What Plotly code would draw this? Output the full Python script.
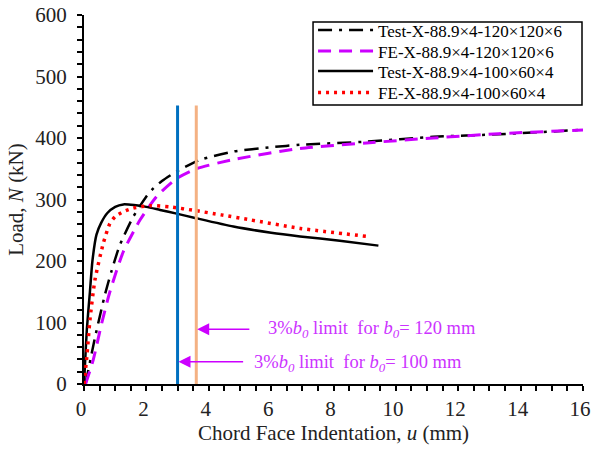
import plotly.graph_objects as go

# Load–indentation curves of the X-joints
u_test_120 = [0.05, 0.35, 0.67, 0.89, 1.15, 1.58, 2.0, 2.22, 2.5, 2.92, 3.7, 4.79, 6.0, 6.93, 9.06, 11.2, 13.3, 15.85]
n_test_120 = [0, 75, 145, 185, 226, 272, 305, 318, 330, 344, 364, 378, 385, 389, 394, 402, 406, 413]

u_fe_120 = [0.05, 0.3, 0.55, 0.83, 1.26, 1.8, 2.33, 2.97, 3.6, 4.79, 6.93, 9.06, 11.2, 13.3, 16.0]
n_fe_120 = [0, 40, 95, 150, 215, 267, 305, 334, 350, 365, 383, 392, 400, 407, 413]

u_test_100 = [0, 0.03, 0.09, 0.19, 0.27, 0.4, 0.55, 0.75, 1.0, 1.26, 1.6, 2.0, 2.44, 2.97, 3.56, 4.79, 6.0, 6.93, 8.2, 9.44]
n_test_100 = [0, 30, 88, 150, 200, 243, 262, 278, 288, 292, 291, 288, 283, 277, 270, 256, 246, 240, 233, 225]

u_fe_100 = [0, 0.09, 0.19, 0.35, 0.62, 0.83, 1.0, 1.26, 1.58, 2.12, 2.76, 3.56, 4.4, 5.32, 6.93, 9.08]
n_fe_100 = [0, 44, 104, 169, 229, 261, 272, 280, 286, 290, 288, 282, 275, 267, 253, 240]

# 3% b0 deformation limits (mm)
limit_100 = 3.0
limit_120 = 3.6
limit_top = 453

FONT = "Liberation Serif, Times New Roman, serif"
MAGENTA = "#CC00FF"
TEXT_MAGENTA = "#CC33FF"

fig = go.Figure()
fig.add_trace(go.Scatter(x=u_test_120, y=n_test_120, mode="lines", name="Test-X-88.9×4-120×120×6",
                         line=dict(color="black", width=2.5, dash="14px,7px,3px,7px",
                                   shape="spline", smoothing=0.6), legend="legend"))
fig.add_trace(go.Scatter(x=u_fe_120, y=n_fe_120, mode="lines", name="FE-X-88.9×4-120×120×6",
                         line=dict(color=MAGENTA, width=3, dash="13px,8px",
                                   shape="spline", smoothing=0.6), legend="legend2"))
fig.add_trace(go.Scatter(x=u_test_100, y=n_test_100, mode="lines", name="Test-X-88.9×4-100×60×4",
                         line=dict(color="black", width=2.5, shape="spline", smoothing=0.6),
                         legend="legend3"))
fig.add_trace(go.Scatter(x=u_fe_100, y=n_fe_100, mode="lines", name="FE-X-88.9×4-100×60×4",
                         line=dict(color="#FF0000", width=3.5, dash="3px,5px",
                                   shape="spline", smoothing=0.6), legend="legend4"))

fig.add_shape(type="line", xref="x", yref="y", x0=limit_100, x1=limit_100, y0=0, y1=limit_top,
              line=dict(color="#0070C0", width=3))
fig.add_shape(type="line", xref="x", yref="y", x0=limit_120, x1=limit_120, y0=0, y1=limit_top,
              line=dict(color="#F4B183", width=3))

# frame around the legend entries
fig.add_shape(type="rect", xref="paper", yref="paper", x0=0.459, x1=0.998, y0=0.756, y1=0.981,
              line=dict(color="black", width=1.5), fillcolor="white", layer="below")

# arrows pointing to the limit lines
fig.add_annotation(x=limit_120 + 0.03, y=89, ax=5.35, ay=89, axref="x", ayref="y", xref="x", yref="y",
                   text="", showarrow=True, arrowhead=2, arrowsize=1.6, arrowwidth=1.5, arrowcolor=MAGENTA)
fig.add_annotation(x=limit_100 + 0.03, y=36, ax=5.15, ay=36, axref="x", ayref="y", xref="x", yref="y",
                   text="", showarrow=True, arrowhead=2, arrowsize=1.6, arrowwidth=1.5, arrowcolor=MAGENTA)
fig.add_annotation(x=5.83, y=89, xref="x", yref="y", xanchor="left", yanchor="middle", showarrow=False,
                   text="3%<i>b</i><sub><i>0</i></sub>&nbsp;limit&nbsp;&nbsp;for <i>b</i><sub><i>0</i></sub>= 120 mm",
                   font=dict(family=FONT, size=18.5, color=TEXT_MAGENTA))
fig.add_annotation(x=5.39, y=33, xref="x", yref="y", xanchor="left", yanchor="middle", showarrow=False,
                   text="3%<i>b</i><sub><i>0</i></sub>&nbsp;limit&nbsp;&nbsp;for <i>b</i><sub><i>0</i></sub>= 100 mm",
                   font=dict(family=FONT, size=18.5, color=TEXT_MAGENTA))

legend_style = dict(x=0.459, xanchor="left", yanchor="middle", borderwidth=0,
                    bgcolor="rgba(0,0,0,0)", font=dict(family=FONT, size=17, color="black"),
                    itemwidth=55)
legend_rows = [0.958, 0.901, 0.847, 0.789]

fig.update_layout(
    width=592, height=452,
    margin=dict(l=84, r=9, t=15, b=68, autoexpand=False),
    plot_bgcolor="white", paper_bgcolor="white",
    font=dict(family=FONT, size=21, color="#222222"),
    showlegend=True,
    legend=dict(y=legend_rows[0], **legend_style),
    legend2=dict(y=legend_rows[1], **legend_style),
    legend3=dict(y=legend_rows[2], **legend_style),
    legend4=dict(y=legend_rows[3], **legend_style),
    xaxis=dict(range=[0, 16], dtick=2, tick0=0, showgrid=False, zeroline=False, automargin=False,
               showline=True, linecolor="black", linewidth=2,
               ticks="outside", ticklen=5, tickwidth=1.5, tickcolor="black",
               ticklabeloverflow="allow", ticklabelshift=-3,
               minor=dict(dtick=0.5, ticks="outside", ticklen=5, tickwidth=1.5, tickcolor="black"),
               title=dict(text="Chord Face Indentation, <i>u</i> (mm)", standoff=4,
                          font=dict(family=FONT, size=21))),
    yaxis=dict(range=[0, 600], dtick=100, tick0=0, showgrid=False, zeroline=False, automargin=False,
               showline=True, linecolor="black", linewidth=2,
               ticks="outside", ticklen=5, tickwidth=1.5, tickcolor="black",
               ticklabelstandoff=6,
               minor=dict(dtick=20, ticks="outside", ticklen=5, tickwidth=1.5, tickcolor="black"),
               title=dict(text="Load, <i>N</i> (kN)", standoff=6,
                          font=dict(family=FONT, size=21))),
)

fig.write_html("out.html")
